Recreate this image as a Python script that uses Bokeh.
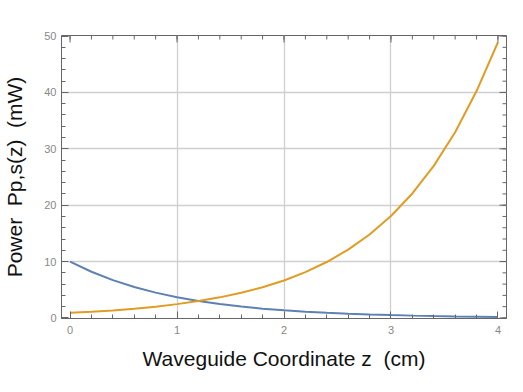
import math
from bokeh.plotting import figure
from bokeh.models import FixedTicker, Range1d
from bokeh.embed import file_html
from bokeh.resources import INLINE

# Data
z = [0.0, 0.2, 0.4, 0.6, 0.8, 1.0, 1.2, 1.4, 1.6, 1.8, 2.0, 2.2, 2.4, 2.6, 2.8, 3.0, 3.2, 3.4, 3.6, 3.8, 4.0]
pump = [10.0, 8.19, 6.70, 5.49, 4.49, 3.68, 3.01, 2.47, 2.02, 1.65, 1.35, 1.11, 0.91, 0.74, 0.61, 0.50, 0.41, 0.33, 0.27, 0.22, 0.18]
signal = [0.9, 1.10, 1.34, 1.64, 2.00, 2.45, 2.99, 3.65, 4.46, 5.44, 6.65, 8.12, 9.92, 12.11, 14.80, 18.08, 22.08, 26.97, 32.94, 40.24, 48.9]
x_ticks = [0, 1, 2, 3, 4]
y_ticks = [0, 10, 20, 30, 40, 50]
x_minor = [round(i * 0.2, 1) for i in range(0, 21)]
y_minor = [i * 2 for i in range(0, 26)]

FONT = "Liberation Sans"
FRAME = "#666666"
NB = "\u00a0"

p = figure(width=507, height=376, output_backend="svg", toolbar_location=None,
           x_range=Range1d(-0.08, 4.08), y_range=Range1d(-0.1, 50.1),
           min_border_left=57, min_border_right=1, min_border_top=35, min_border_bottom=58,
           x_axis_label="Waveguide Coordinate z" + NB + " (cm)",
           y_axis_label="Power" + NB + " Pp,s(z)" + NB + " (mW)")
p.outline_line_color = FRAME

p.xgrid.ticker = FixedTicker(ticks=[1, 2, 3])
p.ygrid.ticker = FixedTicker(ticks=[10, 20, 30, 40])
p.xgrid.grid_line_color = "#cfcfcf"
p.ygrid.grid_line_color = "#cfcfcf"
p.xgrid.grid_line_width = 1.3
p.ygrid.grid_line_width = 1.3

p.line(z, pump, line_color="#5E81B5", line_width=2)
p.line(z, signal, line_color="#E19C24", line_width=2)

# ticks on the top and right edges of the frame
top_y = p.y_range.end
right_x = p.x_range.end
p.ray(x=x_ticks, y=[top_y] * len(x_ticks), length=7, length_units="screen",
      angle=-math.pi / 2, line_color=FRAME, line_width=1)
p.ray(x=x_minor, y=[top_y] * len(x_minor), length=4, length_units="screen",
      angle=-math.pi / 2, line_color=FRAME, line_width=1)
p.ray(x=[right_x] * len(y_ticks), y=y_ticks, length=7, length_units="screen",
      angle=math.pi, line_color=FRAME, line_width=1)
p.ray(x=[right_x] * len(y_minor), y=y_minor, length=4, length_units="screen",
      angle=math.pi, line_color=FRAME, line_width=1)

p.xaxis[0].ticker = FixedTicker(ticks=x_ticks, minor_ticks=x_minor)
p.yaxis[0].ticker = FixedTicker(ticks=y_ticks, minor_ticks=y_minor)
for ax in (p.xaxis[0], p.yaxis[0]):
    ax.major_tick_in = 7
    ax.major_tick_out = 0
    ax.minor_tick_in = 4
    ax.minor_tick_out = 0
    ax.axis_line_color = FRAME
    ax.major_tick_line_color = FRAME
    ax.minor_tick_line_color = FRAME
    ax.major_label_text_font = FONT
    ax.major_label_text_font_size = "11px"
    ax.major_label_text_color = "#888888"
    ax.axis_label_text_font = FONT
    ax.axis_label_text_font_size = "21px"
    ax.axis_label_text_font_style = "normal"
    ax.axis_label_text_color = "#111111"

p.xaxis[0].major_label_standoff = 7
p.xaxis[0].axis_label_standoff = 10
p.yaxis[0].major_label_standoff = 5
p.yaxis[0].axis_label_standoff = 15

open("out.html", "w").write(file_html(p, INLINE))
